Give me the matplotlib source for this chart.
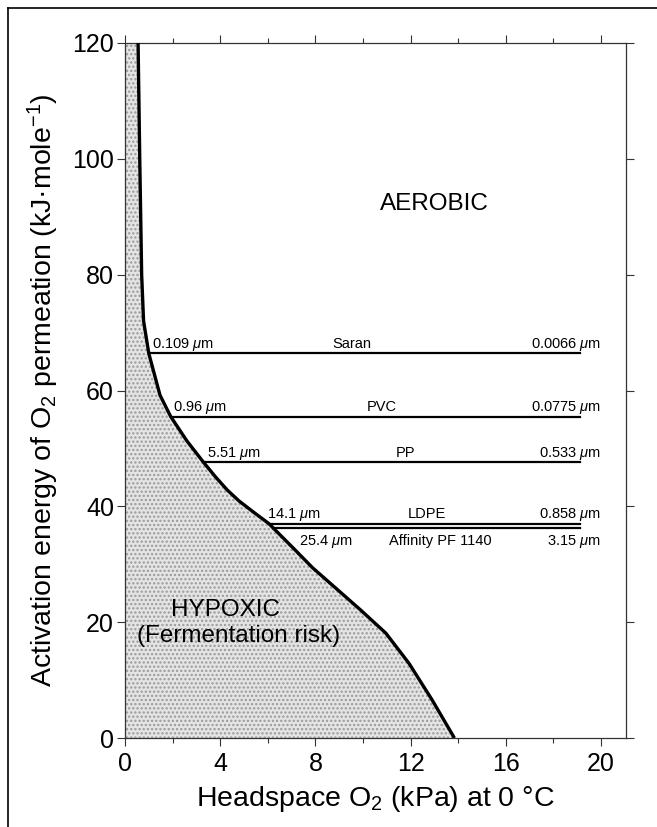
import matplotlib
matplotlib.use("Agg")
import matplotlib.pyplot as plt
from matplotlib.ticker import MultipleLocator
from matplotlib.lines import Line2D

plt.rcParams['font.family'] = ['Liberation Sans', 'DejaVu Sans']
plt.rcParams['mathtext.fontset'] = 'custom'
plt.rcParams['mathtext.rm'] = 'Liberation Sans'
plt.rcParams['mathtext.it'] = 'Liberation Sans:italic'
plt.rcParams['mathtext.bf'] = 'Liberation Sans:bold'
plt.rcParams['hatch.linewidth'] = 1.1

# ---- data ----
boundary_x = [0.55, 0.62, 0.70, 0.78, 1.00, 1.47, 1.92, 2.60, 3.30, 3.80, 4.30, 4.80, 5.40, 6.05,
              7.14, 7.88, 9.90, 10.96, 11.93, 12.90, 13.84]
boundary_y = [120.0, 100.0, 80.0, 72.0, 66.4, 59.2, 55.5, 51.3, 47.6, 45.1, 42.8, 40.9, 39.0, 37.0,
              32.5, 29.4, 22.1, 18.1, 12.9, 6.6, 0.0]

films = ['Saran', 'PVC', 'PP', 'LDPE', 'Affinity PF 1140']
film_energy = [66.4, 55.5, 47.6, 37.0, 36.2]
film_x_start = [1.05, 1.96, 3.36, 6.09, 6.23]
film_x_end = [19.1, 19.1, 19.1, 19.1, 19.1]
thick_low = ['0.109', '0.96', '5.51', '14.1', '25.4']
thick_high = ['0.0066', '0.0775', '0.533', '0.858', '3.15']

x_ticks = [0, 4, 8, 12, 16, 20]
y_ticks = [0, 20, 40, 60, 80, 100, 120]

# ---- layout ----
low_label_x = [1.12, 2.03, 3.46, 5.95, 7.31]
name_label_x = [9.55, 10.8, 11.8, 12.7, 13.25]

fig = plt.figure(figsize=(6.57, 8.27), dpi=100)
ax = fig.add_axes([125/657, 1-738/827, (626-125)/657, (738-43)/827])

# stippled hypoxic region
fx = [0] + boundary_x + [0]
fy = [120] + boundary_y + [0]
ax.fill(fx, fy, facecolor='#e4e4e4', edgecolor='#9a9a9a', hatch='....', linewidth=0, zorder=1)

ax.plot(boundary_x, boundary_y, color='black', lw=2.4, zorder=4, solid_capstyle='butt',
        solid_joinstyle='round')

for i, name in enumerate(films):
    e = film_energy[i]
    ax.plot([film_x_start[i], film_x_end[i]], [e, e], color='black', lw=1.6, zorder=3)
    if i < 4:
        yb = e + 1.0
    else:
        yb = e - 2.8
    ax.text(low_label_x[i], yb, thick_low[i] + r' $\mu$m', fontsize=10.5, ha='left', va='baseline', zorder=5)
    ax.text(name_label_x[i], yb, name, fontsize=10.5, ha='center', va='baseline', zorder=5)
    ax.text(20.0, yb, thick_high[i] + r' $\mu$m', fontsize=10.5, ha='right', va='baseline', zorder=5)

ax.text(13.0, 92.2, 'AEROBIC', fontsize=17.5, ha='center', va='center')
ax.text(4.24, 22.1, 'HYPOXIC', fontsize=17.5, ha='center', va='center', zorder=5)
ax.text(4.77, 17.6, '(Fermentation risk)', fontsize=17.5, ha='center', va='center', zorder=5)

ax.set_xlim(0, 21.05)
ax.set_ylim(0, 120)
ax.set_xticks(x_ticks)
ax.set_yticks(y_ticks)
ax.xaxis.set_minor_locator(MultipleLocator(2))
ax.tick_params(axis='both', which='major', direction='out', length=6, width=0.8,
               labelsize=18, top=True, right=True, color='#333333')
ax.tick_params(axis='x', which='minor', direction='out', length=3.5, width=0.8,
               top=True, bottom=True, color='#333333')
ax.tick_params(axis='y', pad=2)
ax.tick_params(axis='x', pad=4)
for s in ax.spines.values():
    s.set_linewidth(0.9)
    s.set_color('#333333')

ax.set_xlabel(r'Headspace O$_2$ (kPa) at 0 °C', fontsize=20.5, labelpad=6)
ax.set_ylabel(r'Activation energy of O$_2$ permeation (kJ·mole$^{-1}$)', fontsize=20.5, labelpad=8)

# outer frame (top and left edges)
fig.add_artist(Line2D([8/657, 1.0], [1-8/827, 1-8/827], transform=fig.transFigure, color='black', lw=1.2))
fig.add_artist(Line2D([8/657, 8/657], [0.0, 1-8/827], transform=fig.transFigure, color='black', lw=1.2))

fig.savefig('out.png', dpi=100)
